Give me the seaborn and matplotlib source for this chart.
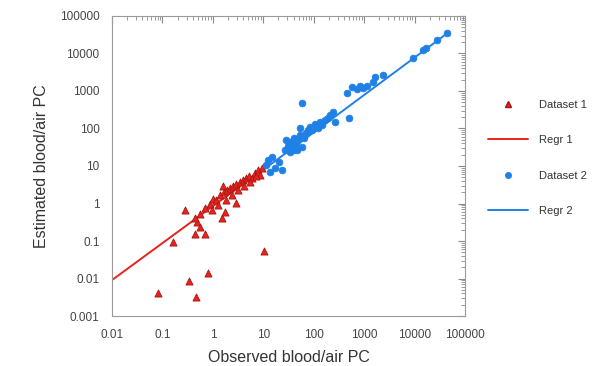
import matplotlib
matplotlib.use("Agg")
import matplotlib.pyplot as plt
import matplotlib.ticker as mticker
from matplotlib.lines import Line2D
import pandas as pd
import seaborn as sns

# Dataset 1 (red triangles)
set1_obs = [0.082, 0.34, 0.46, 0.80, 10.4, 0.16, 0.28, 0.44, 0.70, 0.49, 0.56,
            1.5, 1.75, 2.9, 1.6, 0.44, 0.56, 0.70, 0.88, 1.0, 1.16, 1.39, 1.67,
            1.91, 2.19, 2.52, 2.88, 3.47, 3.97, 4.56, 5.23, 6.0, 6.87, 7.9, 8.65,
            9.5, 2.4, 3.16, 4.16, 5.47, 7.2, 1.83, 1.27, 0.96]
set1_est = [0.0041, 0.0086, 0.0032, 0.014, 0.054, 0.094, 0.67, 0.15, 0.15, 0.32,
            0.24, 0.41, 0.59, 1.03, 2.9, 0.41, 0.52, 0.76, 0.97, 1.32, 1.24, 1.69,
            2.03, 2.29, 2.59, 2.93, 3.31, 3.74, 4.24, 4.79, 5.41, 4.79, 6.5, 7.8,
            5.75, 8.8, 1.69, 2.29, 2.93, 3.74, 5.41, 1.24, 0.91, 0.67]

# Dataset 2 (blue circles)
set2_obs = [11.4, 12.5, 15.0, 17.1, 20.6, 23.6, 13.6, 27.1, 31.1, 34.0, 37.3,
            40.8, 44.7, 49.0, 53.7, 58.9, 64.5, 70.7, 77.5, 34.0, 39.0, 46.9,
            28.3, 53.7, 84.9, 93.0, 107, 122, 134, 147, 168, 193, 211, 58.9, 243,
            266, 504, 460, 578, 727, 833, 955, 1148, 1510, 1653, 2383, 9380,
            14820, 16990, 28050, 44360]
set2_est = [10.6, 14.5, 17.4, 8.8, 12.8, 7.8, 6.9, 26.7, 34.1, 43.6, 30.2, 55.8,
            38.6, 49.3, 67.1, 32.1, 55.8, 75.9, 91.2, 23.6, 26.7, 26.7, 49.3, 103,
            110, 91.2, 132, 103, 149, 124, 169, 191, 229, 479, 275, 149, 191, 885,
            1279, 1130, 1360, 1202, 1360, 1738, 2362, 2672, 7586, 12390, 14020,
            22900, 35210]

# regression line end points
regr1_x = [0.01, 10]
regr1_y = [0.0091, 8.2]
regr2_x = [10, 45000]
regr2_y = [7.9, 35000]

RED = "#e8231c"
BLUE = "#1f80e6"

sns.set_theme(style="white")
plt.rcParams["font.family"] = ["Liberation Sans", "DejaVu Sans"]

df1 = pd.DataFrame({"obs": set1_obs, "est": set1_est})
df2 = pd.DataFrame({"obs": set2_obs, "est": set2_est})
r1 = pd.DataFrame({"obs": regr1_x, "est": regr1_y})
r2 = pd.DataFrame({"obs": regr2_x, "est": regr2_y})

fig = plt.figure(figsize=(5.94, 3.66), dpi=100)
ax = fig.add_axes([0.1886, 0.1366, 0.5942, 0.8197])

sns.lineplot(data=r1, x="obs", y="est", ax=ax, color=RED, linewidth=1.4)
sns.lineplot(data=r2, x="obs", y="est", ax=ax, color=BLUE, linewidth=1.4)
sns.scatterplot(data=df1, x="obs", y="est", ax=ax, marker="^", s=26,
                color=RED, edgecolor="#a81512", linewidth=0.6, zorder=3)
sns.scatterplot(data=df2, x="obs", y="est", ax=ax, marker="o", s=24,
                color=BLUE, edgecolor=BLUE, linewidth=0.5, zorder=3)

ax.set_xscale("log")
ax.set_yscale("log")
ax.set_xlim(0.01, 100000)
ax.set_ylim(0.001, 100000)
ax.xaxis.set_major_locator(mticker.LogLocator(base=10, numticks=20))
ax.yaxis.set_major_locator(mticker.LogLocator(base=10, numticks=20))
ax.xaxis.set_minor_locator(mticker.LogLocator(base=10, subs=range(2, 10), numticks=20))
ax.yaxis.set_minor_locator(mticker.LogLocator(base=10, subs=range(2, 10), numticks=20))
fmt = mticker.FuncFormatter(lambda v, p: "{:g}".format(v) if v < 1e5 else "100000")
ax.xaxis.set_major_formatter(fmt)
ax.yaxis.set_major_formatter(fmt)
ax.xaxis.set_minor_formatter(mticker.NullFormatter())
ax.yaxis.set_minor_formatter(mticker.NullFormatter())

ax.tick_params(which="both", direction="in", top=True, right=True,
               color="#8a8a8a", labelcolor="#444444", labelsize=8.5)
ax.tick_params(which="major", length=5, width=0.8, pad=9)
ax.tick_params(which="minor", length=3, width=0.6)
for sp in ax.spines.values():
    sp.set_color("#9a9a9a")
    sp.set_linewidth(0.8)

ax.set_xlabel("Observed blood/air PC", fontsize=11.5, color="#333333", labelpad=7)
ax.set_ylabel("Estimated blood/air PC", fontsize=11.5, color="#333333", labelpad=8)

handles = [
    Line2D([], [], marker="^", linestyle="none", color=RED, markersize=4,
           markeredgecolor="#a81512"),
    Line2D([], [], color=RED, linewidth=1.4),
    Line2D([], [], marker="o", linestyle="none", color=BLUE, markersize=4),
    Line2D([], [], color=BLUE, linewidth=1.4),
]
labels = ["Dataset 1", "Regr 1", "Dataset 2", "Regr 2"]
fig.legend(handles, labels, loc="upper left", bbox_to_anchor=(0.805, 0.755),
           frameon=False, fontsize=8, handlelength=3.6, handletextpad=1.0,
           labelspacing=2.3, labelcolor="#333333")

fig.savefig("out.png", dpi=100)
